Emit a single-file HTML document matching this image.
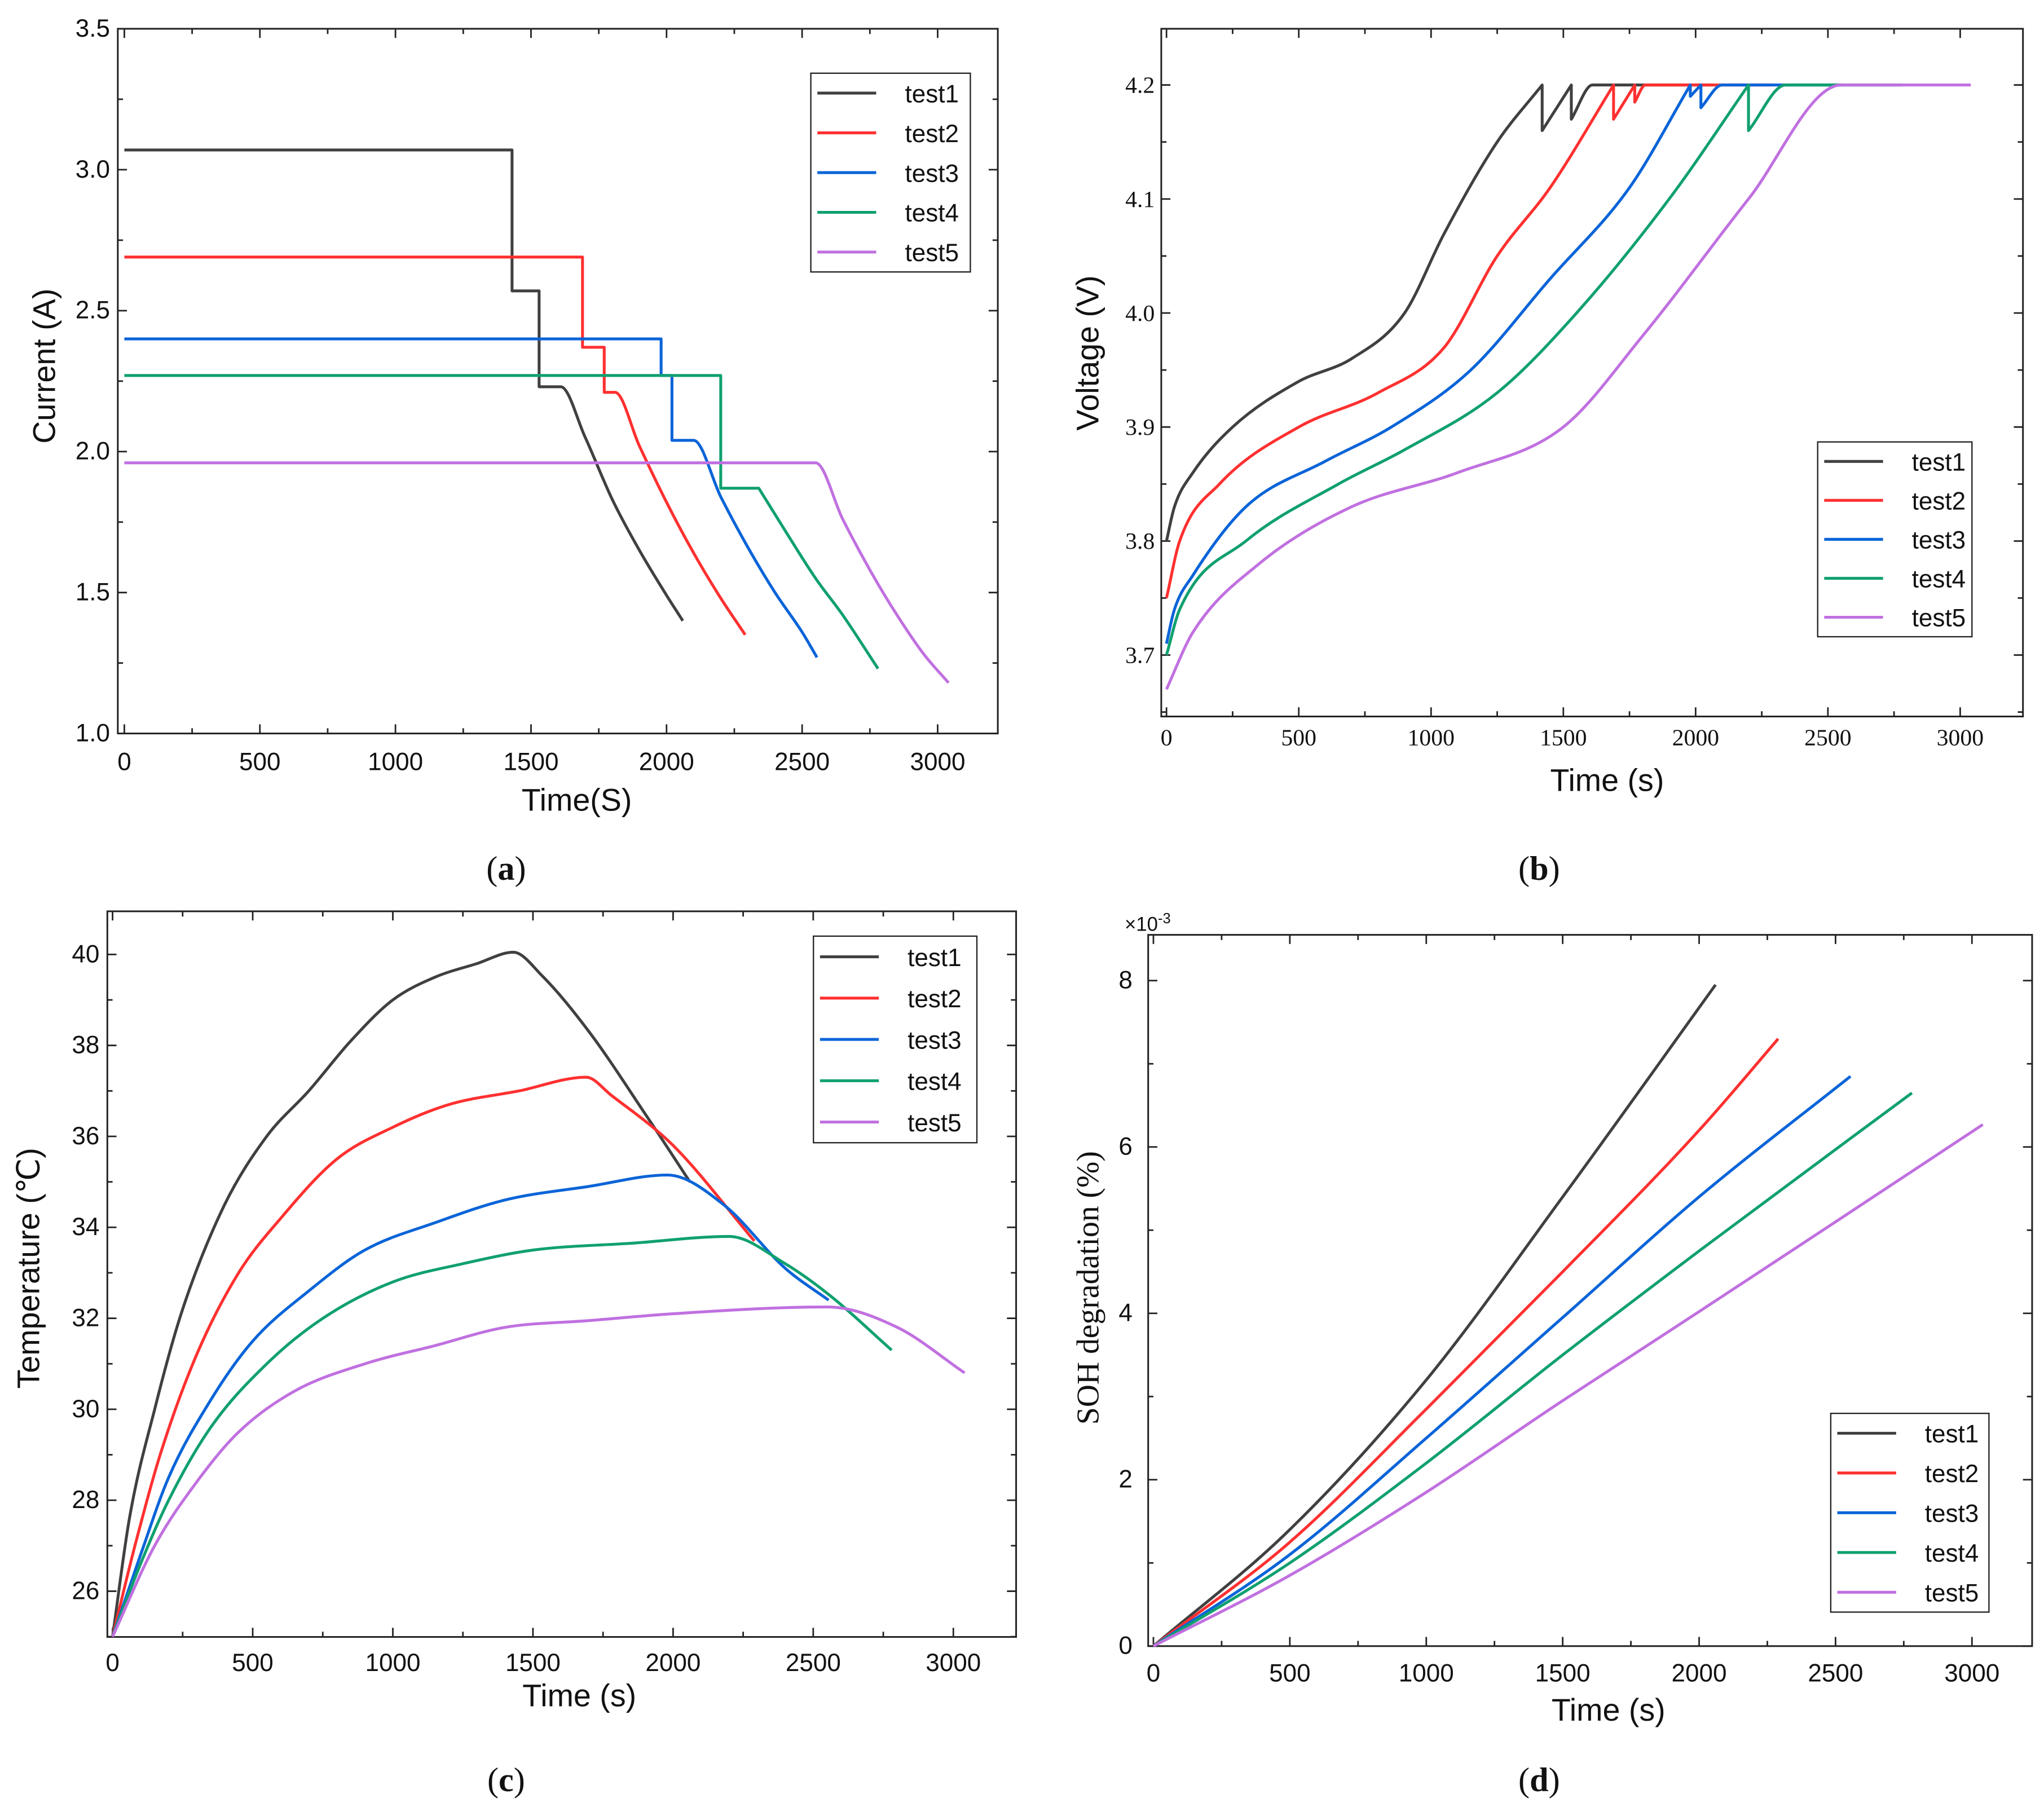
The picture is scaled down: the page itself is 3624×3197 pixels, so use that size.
<!DOCTYPE html>
<html><head><meta charset="utf-8"><style>
html,body{margin:0;padding:0;background:#fff}
svg{display:block}
text{font-family:"Liberation Sans",sans-serif;fill:#111}
.serif{font-family:"Liberation Serif",serif}
</style></head><body>
<svg id="fig" width="3624" height="3197" viewBox="0 0 1563 1379" xmlns="http://www.w3.org/2000/svg"></svg>
<script>
const seriesNames=["test1","test2","test3","test4","test5"];
const colors=["#404040","#ff3030","#0a64d8","#10a070","#c070e0"];
// Panel a: current
const aT=[[0,1430,1430,1530,1530,1610,1700,1800,1900,2000,2060],
[0,1690,1690,1770,1770,1810,1900,2000,2100,2200,2290],
[0,1980,1980,2020,2020,2100,2200,2300,2400,2500,2555],
[0,2200,2200,2340,2340,2450,2550,2650,2780],
[0,2550,2650,2750,2850,2950,3040]];
const aV=[[3.07,3.07,2.57,2.57,2.23,2.23,2.05,1.83,1.65,1.49,1.40],
[2.69,2.69,2.37,2.37,2.21,2.21,2.02,1.82,1.64,1.48,1.35],
[2.40,2.40,2.27,2.27,2.04,2.04,1.84,1.66,1.50,1.36,1.27],
[2.27,2.27,1.87,1.87,1.87,1.70,1.55,1.42,1.23],
[1.96,1.96,1.76,1.58,1.42,1.28,1.18]];
// Panel b: voltage
const bT=[[0,30,100,250,500,700,900,1050,1250,1420,1420,1530,1530,1610,2060],
[0,50,200,500,800,1050,1250,1450,1690,1690,1770,1770,1810,2290],
[0,30,100,300,600,850,1150,1450,1750,1980,1980,2020,2020,2100,2555],
[0,50,300,650,900,1250,1550,1900,2200,2200,2340,2780],
[0,100,350,700,1100,1500,1800,2200,2550,3040]];
const bV=[[3.80,3.83,3.86,3.90,3.94,3.96,4.00,4.07,4.15,4.20,4.16,4.20,4.17,4.20,4.20],
[3.75,3.80,3.85,3.90,3.93,3.97,4.05,4.11,4.20,4.17,4.20,4.185,4.20,4.20],
[3.71,3.74,3.77,3.83,3.87,3.90,3.95,4.03,4.11,4.20,4.19,4.20,4.18,4.20,4.20],
[3.70,3.74,3.80,3.85,3.88,3.93,4.00,4.10,4.20,4.16,4.20,4.20],
[3.67,3.72,3.78,3.83,3.86,3.90,3.98,4.10,4.20,4.20]];
// Panel c: temperature
const cT=[[0,60,150,250,400,550,700,850,1000,1150,1300,1430,1530,1700,1900,2060],
[0,80,170,300,450,600,800,1000,1200,1450,1690,1780,2000,2290],
[0,100,200,350,500,700,900,1150,1400,1700,1980,2180,2400,2555],
[0,100,200,350,550,750,1000,1250,1500,1850,2200,2400,2560,2780],
[0,150,300,450,650,900,1150,1400,1700,2000,2550,2800,3040]];
const cV=[[25,27.6,30,32.2,34.5,36,37,38.1,39,39.5,39.8,40.05,39.55,38.3,36.5,35],
[25,27,29,31.2,33,34.2,35.5,36.2,36.7,37.0,37.3,36.9,35.8,33.7],
[25,26.8,28.5,30.2,31.5,32.6,33.5,34.1,34.6,34.9,35.15,34.5,33.1,32.4],
[25,26.6,28,29.6,31,32,32.8,33.2,33.5,33.65,33.8,33.2,32.5,31.3],
[25,27,28.4,29.5,30.4,31,31.4,31.8,31.95,32.1,32.25,31.8,30.8]];
// Panel d: SOH degradation (x1e-3 %)
const dT=[[0,500,1000,1500,2060],[0,500,1000,1500,2000,2290],[0,500,1000,1500,2000,2555],[0,500,1000,1500,2000,2780],[0,500,1000,1500,2000,2500,3040]];
const dV=[[0,1.4,3.2,5.4,7.95],[0,1.25,2.85,4.5,6.2,7.3],[0,1.1,2.5,3.95,5.4,6.85],[0,1.0,2.2,3.5,4.75,6.65],[0,0.85,1.85,2.95,4.02,5.1,6.27]];

const NS="http://www.w3.org/2000/svg";
const svg=document.getElementById('fig');
function mk(tag,attrs,parent){const e=document.createElementNS(NS,tag);for(const k in attrs)e.setAttribute(k,attrs[k]);(parent||svg).appendChild(e);return e;}
function txt(s,x,y,size,anchor,parent,cls,rot){const t=mk('text',{x:x,y:y,'font-size':size,'text-anchor':anchor||'middle'},parent);if(cls)t.setAttribute('class',cls);if(rot)t.setAttribute('transform','rotate(-90 '+x+' '+y+')');t.textContent=s;return t;}

// monotone cubic path for a segment of points with strictly increasing x
function monoPath(P){
  const n=P.length;let d='';
  if(n<3){for(let i=1;i<n;i++)d+=' L'+P[i][0].toFixed(1)+','+P[i][1].toFixed(1);return d;}
  const s=[],m=[];
  for(let i=0;i<n-1;i++)s.push((P[i+1][1]-P[i][1])/(P[i+1][0]-P[i][0]));
  m[0]=s[0];m[n-1]=s[n-2];
  for(let i=1;i<n-1;i++){m[i]=(s[i-1]*s[i]<=0)?0:(s[i-1]+s[i])/2;}
  for(let i=0;i<n-1;i++){if(s[i]===0){m[i]=0;m[i+1]=0;continue;}
    const a=m[i]/s[i],b=m[i+1]/s[i],h=a*a+b*b;if(h>9){const t=3/Math.sqrt(h);m[i]=t*a*s[i];m[i+1]=t*b*s[i];}}
  for(let i=0;i<n-1;i++){const dx=(P[i+1][0]-P[i][0])/3;
    d+=' C'+(P[i][0]+dx).toFixed(1)+','+(P[i][1]+m[i]*dx).toFixed(1)+' '+(P[i+1][0]-dx).toFixed(1)+','+(P[i+1][1]-m[i+1]*dx).toFixed(1)+' '+P[i+1][0].toFixed(1)+','+P[i+1][1].toFixed(1);}
  return d;
}
function smoothPath(pts){
  let d='M'+pts[0][0].toFixed(1)+','+pts[0][1].toFixed(1);
  let seg=[pts[0]];
  for(let i=1;i<pts.length;i++){
    if(Math.abs(pts[i][0]-pts[i-1][0])<0.01){
      d+=monoPath(seg);d+=' L'+pts[i][0].toFixed(1)+','+pts[i][1].toFixed(1);seg=[pts[i]];
    } else seg.push(pts[i]);
  }
  d+=monoPath(seg);return d;
}

function panel(cfg){
  const g=mk('g',{});
  
  
  const xs=v=>cfg.x0+(v-0)*(cfg.x3000-cfg.x0)/3000;
  const ys=v=>cfg.yA+(v-cfg.vA)*(cfg.yB-cfg.yA)/(cfg.vB-cfg.vA);
  const b=cfg.box;
  const frame=mk('rect',{x:b[0],y:b[1],width:b[2]-b[0],height:b[3]-b[1],fill:'none',stroke:'#222','stroke-width':1.3},g);
  
  
  for(let v=0;v<=3000;v+=250){const x=xs(v);const L=v%500===0?7:4;
    mk('line',{x1:x,y1:b[3],x2:x,y2:b[3]-L,stroke:'#222','stroke-width':1.2},g);
    mk('line',{x1:x,y1:b[1],x2:x,y2:b[1]+L,stroke:'#222','stroke-width':1.2},g);
    if(v%500===0){const t=txt(String(v),x,b[3]+cfg.xlOff,cfg.tickSize,'middle',g,cfg.tickCls);}}
  for(let i=0;i<cfg.yTicks.length;i++){const v=cfg.yTicks[i];const y=ys(v);
    mk('line',{x1:b[0],y1:y,x2:b[0]+7,y2:y,stroke:'#222','stroke-width':1.2},g);
    mk('line',{x1:b[2],y1:y,x2:b[2]-7,y2:y,stroke:'#222','stroke-width':1.2},g);
    const t=txt(cfg.yLabels[i],b[0]-cfg.ylOff,y+6,cfg.tickSize,'end',g,cfg.tickCls);}
  for(const v of cfg.yMinor){const y=ys(v);
    mk('line',{x1:b[0],y1:y,x2:b[0]+4,y2:y,stroke:'#222','stroke-width':1.2},g);
    mk('line',{x1:b[2],y1:y,x2:b[2]-4,y2:y,stroke:'#222','stroke-width':1.2},g);}
  for(let s=0;s<5;s++){
    const pts=cfg.T[s].map((t,i)=>[xs(t),ys(cfg.V[s][i])]);
    const p=mk('path',{d:cfg.smooth?smoothPath(pts):('M'+pts.map(q=>q[0].toFixed(1)+','+q[1].toFixed(1)).join(' L')),fill:'none',stroke:colors[s],'stroke-width':2.2,'stroke-linejoin':'round'},g);
    
    
  }
  const l=cfg.leg;
  const lg=mk('g',{},g);
  
  
  mk('rect',{x:l[0],y:l[1],width:l[2]-l[0],height:l[3]-l[1],fill:'#fff',stroke:'#222','stroke-width':1},lg);
  const step=(l[3]-l[1])/5;
  for(let s=0;s<5;s++){const y=l[1]+step*(s+0.5);
    const e=mk('g',{},lg);
    
    
    mk('line',{x1:l[0]+5,y1:y,x2:l[0]+50,y2:y,stroke:colors[s],'stroke-width':2.2},e);
    txt(seriesNames[s],l[0]+72,y+7,19,'start',e);}
  const xt=txt(cfg.xTitle,cfg.xtPos[0],cfg.xtPos[1],24,'middle',g);
  
  const yt=txt(cfg.yTitle,cfg.ytPos[0],cfg.ytPos[1],24,'middle',g,cfg.ytCls,true);
  
  const cap=mk('text',{x:cfg.cap[0],y:cfg.cap[1],'font-size':26,'text-anchor':'middle',class:'serif'},g);
  
  cap.innerHTML='(<tspan font-weight="bold">'+cfg.capL+'</tspan>)';
  return g;
}
panel({name:'panel-a-current',box:[90,22,763,561],x0:95,x3000:717,yA:22,vA:3.5,yB:561,vB:1.0,smooth:true,
  yTicks:[1.0,1.5,2.0,2.5,3.0,3.5],yLabels:['1.0','1.5','2.0','2.5','3.0','3.5'],yMinor:[1.25,1.75,2.25,2.75,3.25],
  T:aT,V:aV,leg:[620,56,742,208],xTitle:'Time(S)',xtPos:[441,620],yTitle:'Current (A)',ytPos:[42,280],
  tickSize:19,xlOff:28,ylOff:6,cap:[387,673],capL:'a'});
panel({name:'panel-b-voltage',box:[888,22,1547,548],x0:892,x3000:1499,yA:65,vA:4.2,yB:501,vB:3.7,smooth:true,
  yTicks:[3.7,3.8,3.9,4.0,4.1,4.2],yLabels:['3.7','3.8','3.9','4.0','4.1','4.2'],yMinor:[3.65,3.75,3.85,3.95,4.05,4.15],
  T:bT,V:bV,leg:[1390,338,1508,487],xTitle:'Time (s)',xtPos:[1229,605],yTitle:'Voltage (V)',ytPos:[840,270],
  tickSize:18,xlOff:22,ylOff:5,tickCls:'serif',cap:[1177,673],capL:'b'});
panel({name:'panel-c-temperature',box:[82,697,777,1252],x0:86,x3000:729,yA:730,vA:40,yB:1217,vB:26,smooth:true,
  yTicks:[26,28,30,32,34,36,38,40],yLabels:['26','28','30','32','34','36','38','40'],yMinor:[25,27,29,31,33,35,37,39],
  T:cT,V:cV,leg:[622,716,747,874],xTitle:'Time (s)',xtPos:[443,1305],yTitle:'Temperature (℃)',ytPos:[30,970],
  tickSize:19,xlOff:26,ylOff:6,cap:[387,1370],capL:'c'});
panel({name:'panel-d-soh',box:[878,715,1554,1259],x0:882,x3000:1508,yA:1259,vA:0,yB:750,vB:8,smooth:true,
  yTicks:[0,2,4,6,8],yLabels:['0','2','4','6','8'],yMinor:[1,3,5,7],
  T:dT,V:dV,leg:[1400,1081,1521,1233],xTitle:'Time (s)',xtPos:[1230,1316],yTitle:'SOH degradation (%)',ytPos:[840,985],ytCls:'serif',
  tickSize:19,xlOff:27,ylOff:12,cap:[1177,1370],capL:'d'});
const ex=mk('text',{x:860,y:712,'font-size':15});


ex.innerHTML='×10<tspan dy="-6" font-size="11">-3</tspan>';
</script>
</body></html>
